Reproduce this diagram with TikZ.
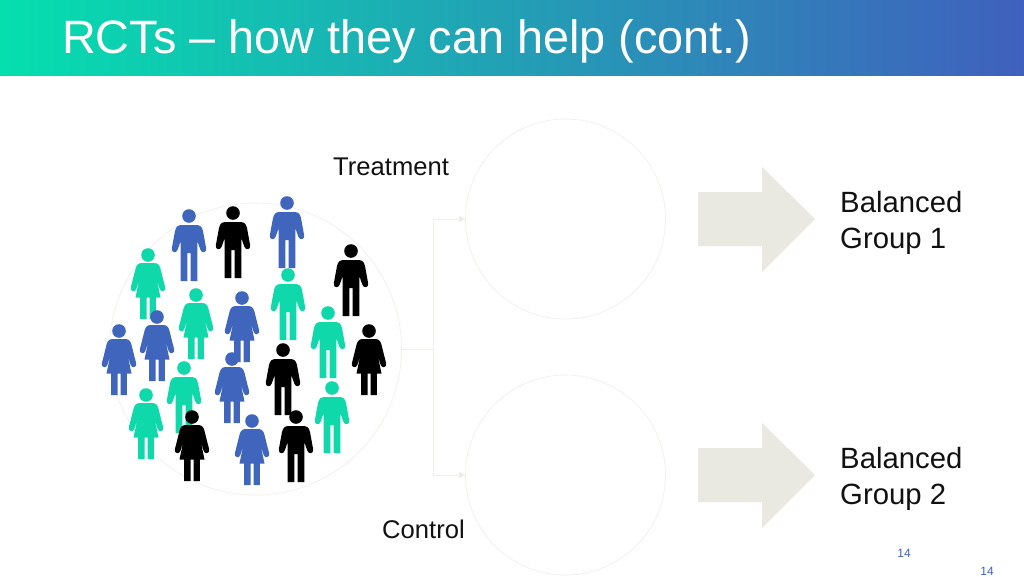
\documentclass[tikz,border=0pt]{standalone}
\usepackage{fontspec}
\setmainfont{Liberation Sans}
\usetikzlibrary{arrows.meta}
\definecolor{hteal}{HTML}{05DFAE}
\definecolor{hblue}{HTML}{4060BD}
\definecolor{pteal}{HTML}{0FD8AB}
\definecolor{pblue}{HTML}{3F66BC}
\definecolor{pale}{HTML}{EAE9E1}
\definecolor{faint}{HTML}{F0EFE9}
\definecolor{txt}{HTML}{111111}
\tikzset{
  man/.pic={
    \fill[pic actions] (0,0) circle (6.8);
    \fill[pic actions] (-8.3,65) -- (-8.3,25) -- (-11.3,33.5)
      .. controls (-12.2,37.5) and (-17.8,37) .. (-17.2,32.5)
      -- (-14,15) .. controls (-13,11) and (-11.5,9) .. (-7,9)
      -- (7,9) .. controls (11.5,9) and (13,11) .. (14,15)
      -- (17.2,32.5) .. controls (17.8,37) and (12.2,37.5) .. (11.3,33.5)
      -- (8.3,25) -- (8.3,65) -- (1.6,65) -- (1.6,37) -- (-1.6,37) -- (-1.6,65) -- cycle;
  },
  woman/.pic={
    \fill[pic actions] (0,0) circle (6.8);
    \fill[pic actions] (-7.8,64) -- (-7.8,42.5) -- (-12.5,42.5) -- (-8.6,24) -- (-11.5,33.5)
      .. controls (-12.4,37.5) and (-17.8,37) .. (-17.2,32.5)
      -- (-12.4,13.5) .. controls (-11.4,10) and (-9.8,8) .. (-6,8)
      -- (6,8) .. controls (9.8,8) and (11.4,10) .. (12.4,13.5)
      -- (17.2,32.5) .. controls (17.8,37) and (12.4,37.5) .. (11.5,33.5)
      -- (8.6,24) -- (12.5,42.5) -- (7.8,42.5) -- (7.8,64) -- (1.5,64) -- (1.5,42.5) -- (-1.5,42.5) -- (-1.5,64) -- cycle;
  },
  ring/.style={circle,draw=faint,line width=0.7pt,fill=white,inner sep=0pt},
  link/.style={draw=faint,line width=0.8pt},
  bigarrow/.style={fill=pale},
  label/.style={anchor=west,inner sep=0pt,text=txt,font=\fontsize{25.6}{30}\selectfont},
  grouplabel/.style={anchor=west,inner sep=0pt,align=left,text=txt,font=\fontsize{29.3}{36}\selectfont},
  pagenum/.style={inner sep=0pt,text=hblue,font=\fontsize{12}{14}\selectfont},
}
\begin{document}
\begin{tikzpicture}[x=1pt,y=-1pt]
\useasboundingbox (0,0) rectangle (1024,576);
\fill[white] (0,0) rectangle (1024,576);
\shade[left color=hteal,right color=hblue] (0,0) rectangle (1024,75);
\node[anchor=base west,inner sep=0pt,text=white,font=\fontsize{46.8}{50}\selectfont] (title) at (62,53) {RCTs – how they can help (cont.)};

\node[ring,minimum size=292pt] (pool) at (255.5,349) {};
\node[ring,minimum size=200pt] (treat) at (565.5,219) {};
\node[ring,minimum size=200pt] (ctrl) at (565.5,475) {};

\coordinate (split) at (433,349);
\draw[link] (pool.east) -- (split);
\draw[link,-{Triangle[length=6pt,width=6pt,fill=pale]}] (split) |- (treat.west);
\draw[link,-{Triangle[length=6pt,width=6pt,fill=pale]}] (split) |- (ctrl.west);

\fill[bigarrow] (698,192) -- (762,192) -- (762,167) -- (815,219) -- (762,272) -- (762,246) -- (698,246) -- cycle;
\fill[bigarrow] (698,448) -- (762,448) -- (762,423) -- (815,475) -- (762,528) -- (762,502) -- (698,502) -- cycle;

\pic[fill=pblue] at (189,216) {man};
\pic[fill=black] at (233,213) {man};
\pic[fill=pblue] at (287,203) {man};
\pic[fill=black] at (351,251) {man};
\pic[fill=pteal] at (148,255) {woman};
\pic[fill=pteal] at (288,275) {man};
\pic[fill=pteal] at (196,295) {woman};
\pic[fill=pblue] at (242,298) {woman};
\pic[fill=pteal] at (328,313) {man};
\pic[fill=black] at (369,331) {woman};
\pic[fill=pblue] at (119,331) {woman};
\pic[fill=pblue] at (157,317) {woman};
\pic[fill=pteal] at (184,368) {man};
\pic[fill=pblue] at (232,359) {woman};
\pic[fill=pteal] at (146,395) {woman};
\pic[fill=black] at (192,417) {woman};
\pic[fill=black] at (283,350) {man};
\pic[fill=pteal] at (332,388) {man};
\pic[fill=pblue] at (252,421) {woman};
\pic[fill=black] at (296,417) {man};

\node[label] (tl) at (333,167) {Treatment};
\node[label] (cl) at (382,529) {Control};
\node[grouplabel] (g1) at (840,223) {Balanced\\Group 1};
\node[grouplabel] (g2) at (840,479) {Balanced\\Group 2};
\node[pagenum] (p1) at (904,553) {14};
\node[pagenum] (p2) at (987,571) {14};
\end{tikzpicture}
\end{document}
